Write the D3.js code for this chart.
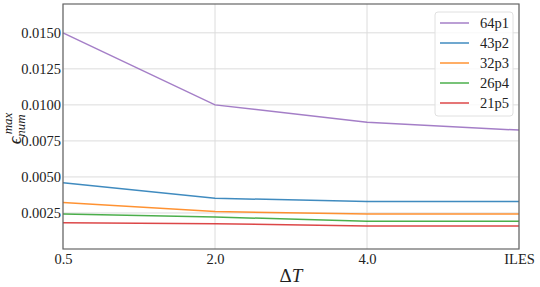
<!DOCTYPE html>
<html>
<head>
<meta charset="utf-8">
<script src="https://cdn.jsdelivr.net/npm/d3@7"></script>
<style>
  body { margin: 0; background: #fff; }
  svg { display: block; }
</style>
</head>
<body>
<script>
// categories on the x axis
let categories = ['0.5', '2.0', '4.0', 'ILES'];
// series names and values
let seriesNames = ['64p1', '43p2', '32p3', '26p4', '21p5'];
let s64p1 = [0.0150, 0.0100, 0.0088, 0.00825];
let s43p2 = [0.0046, 0.00352, 0.00330, 0.00330];
let s32p3 = [0.00322, 0.00260, 0.00242, 0.00242];
let s26p4 = [0.00243, 0.00222, 0.00192, 0.00192];
let s21p5 = [0.00183, 0.00175, 0.00160, 0.00160];
let yTicks = [0.0025, 0.0050, 0.0075, 0.0100, 0.0125, 0.0150];
let colors = ['#9467bd', '#1f77b4', '#ff7f0e', '#2ca02c', '#d62728'];

let allSeries = [s64p1, s43p2, s32p3, s26p4, s21p5];
let fontName = 'Liberation Serif';

let svgWidth = 540;
let svgHeight = 287;
let margin = { top: 4, right: 21, bottom: 38, left: 63 };
let chartWidth = svgWidth - margin.left - margin.right;
let chartHeight = svgHeight - margin.top - margin.bottom;

let svg = d3.select('body')
  .append('svg')
  .attr('width', svgWidth)
  .attr('height', svgHeight)
  .attr('font-family', fontName);

let chartGroup = svg.append('g')
  .attr('transform', `translate(${margin.left}, ${margin.top})`);

let xScale = d3.scalePoint()
  .domain(categories)
  .range([0, chartWidth]);

let yScale = d3.scaleLinear()
  .domain([0, 0.0170])
  .range([chartHeight, 0]);

// grid lines
chartGroup.append('g')
  .selectAll('line')
  .data(yTicks)
  .enter()
  .append('line')
  .attr('x1', 0)
  .attr('x2', chartWidth)
  .attr('y1', d => yScale(d))
  .attr('y2', d => yScale(d))
  .attr('stroke', '#dcdcdc')
  .attr('stroke-width', 1);

chartGroup.append('g')
  .selectAll('line')
  .data(categories)
  .enter()
  .append('line')
  .attr('x1', d => xScale(d))
  .attr('x2', d => xScale(d))
  .attr('y1', 0)
  .attr('y2', chartHeight)
  .attr('stroke', '#dcdcdc')
  .attr('stroke-width', 1);

// lines
let createLine = d3.line()
  .x((d, i) => xScale(categories[i]))
  .y(d => yScale(d));

allSeries.forEach((values, i) => {
  chartGroup.append('path')
    .attr('d', createLine(values))
    .attr('fill', 'none')
    .attr('stroke', colors[i])
    .attr('stroke-opacity', 0.85)
    .attr('stroke-width', 1.5);
});

// axes
let xAxis = d3.axisBottom(xScale).tickSize(0).tickPadding(5);
let yAxis = d3.axisLeft(yScale).tickValues(yTicks).tickFormat(d3.format('.4f')).tickSize(0).tickPadding(2);

let xg = chartGroup.append('g')
  .attr('transform', `translate(0, ${chartHeight})`)
  .call(xAxis)
  .attr('font-family', fontName)
  .attr('font-size', 14.5);
xg.select('.domain').remove();
xg.selectAll('text').attr('fill', '#222');

let yg = chartGroup.append('g')
  .call(yAxis)
  .attr('font-family', fontName)
  .attr('font-size', 14.5);
yg.select('.domain').remove();
yg.selectAll('text').attr('fill', '#222');

// frame
chartGroup.append('rect')
  .attr('width', chartWidth)
  .attr('height', chartHeight)
  .attr('fill', 'none')
  .attr('stroke', '#666')
  .attr('stroke-width', 1.2);

// axis labels
let xl = chartGroup.append('text')
  .attr('x', chartWidth / 2)
  .attr('y', chartHeight + 33)
  .attr('text-anchor', 'middle')
  .attr('font-family', fontName)
  .attr('font-size', 19)
  .attr('fill', '#222');
xl.append('tspan').text('Δ');
xl.append('tspan').attr('font-style', 'italic').text('T');

let yl = svg.append('text')
  .attr('transform', `translate(21, ${margin.top + chartHeight / 2 + 2}) rotate(-90)`)
  .attr('text-anchor', 'middle')
  .attr('font-family', fontName)
  .attr('font-size', 19)
  .attr('fill', '#222');
yl.append('tspan').attr('font-style', 'italic').text('ϵ');
yl.append('tspan').attr('font-style', 'italic').attr('font-size', 13).attr('dy', 4).text('num');
yl.append('tspan').attr('font-style', 'italic').attr('font-size', 13).attr('dx', -20).attr('dy', -13).text('max');

// legend
let legend = svg.append('g')
  .attr('transform', 'translate(435, 12)');
legend.append('rect')
  .attr('width', 78)
  .attr('height', 104)
  .attr('rx', 3)
  .attr('fill', '#fff')
  .attr('fill-opacity', 0.8)
  .attr('stroke', '#e0e0e0');

seriesNames.forEach((name, i) => {
  let row = legend.append('g').attr('transform', `translate(0, ${11 + i * 20})`);
  row.append('line')
    .attr('x1', 5).attr('x2', 34)
    .attr('stroke', colors[i])
    .attr('stroke-opacity', 0.85)
    .attr('stroke-width', 1.5);
  row.append('text')
    .attr('x', 45)
    .attr('y', 5)
    .attr('font-family', fontName)
    .attr('font-size', 14.5)
    .attr('fill', '#222')
    .text(name);
});
</script>
</body>
</html>
